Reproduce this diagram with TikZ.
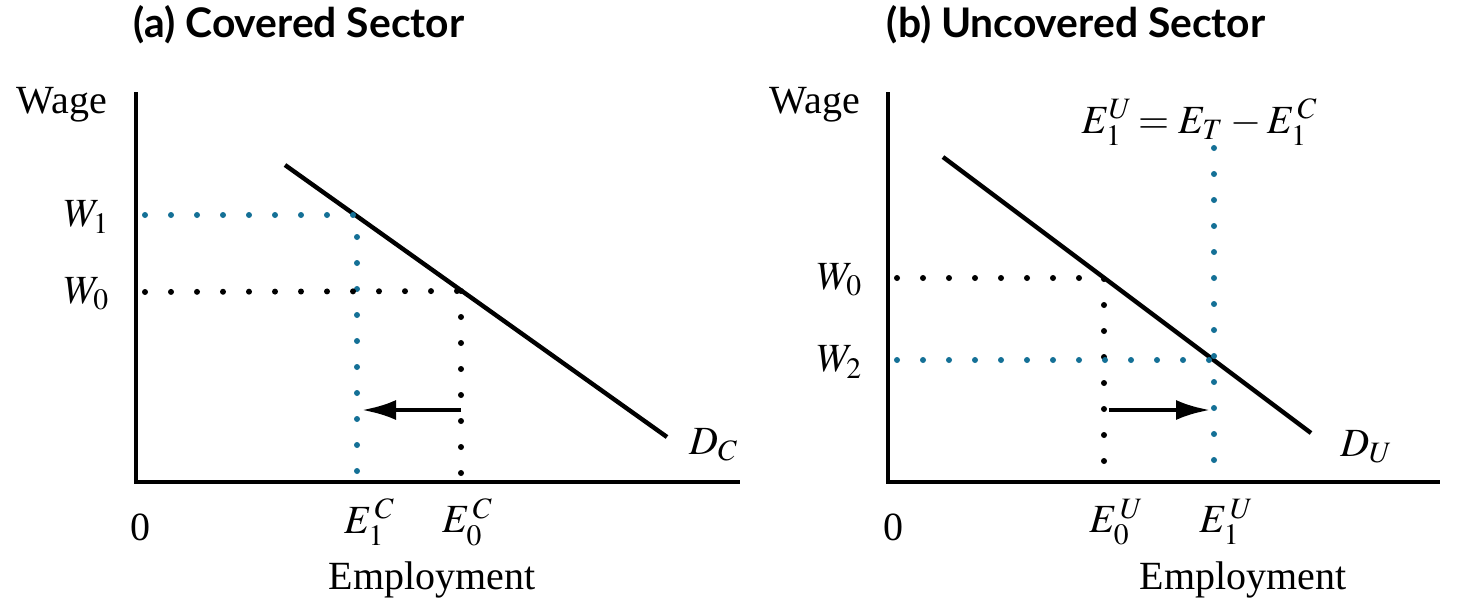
\documentclass[tikz,border=0pt]{standalone}
\usepackage{mathptmx}
\usepackage{fontspec}
\setmainfont{Liberation Serif}
\newfontfamily\titlefont{Lato}
\usepackage{xcolor}
\usepackage{tikz}
\usetikzlibrary{arrows.meta}

\definecolor{dotblue}{RGB}{20,112,150}

\begin{document}
\begin{tikzpicture}[
    >={Latex[length=8.5pt,width=5pt]},
    x=0.25pt, y=-0.25pt,
    axisline/.style={line width=1.1pt},
    demand/.style={line width=1.1pt},
    dotline/.style={line width=1.5pt,line cap=round,dash pattern=on 0pt off 6.5pt},
    bdots/.style={dotline,black},
    cdots/.style={dotline,dotblue},
    move/.style={->,line width=1.1pt},
    lbl/.style={font=\fontsize{10}{12}\selectfont,inner sep=0pt},
    paneltitle/.style={font=\titlefont\bfseries\fontsize{10.2}{12}\selectfont,
                       anchor=west,inner sep=0pt},
  ]
  \useasboundingbox (0,0) rectangle (1468,603);

  % --- (a) covered sector ---
  \node[paneltitle] (ta) at (133,25) {(a) Covered Sector};

  \coordinate (ya) at (136,92);
  \coordinate (oa) at (136,482);
  \coordinate (xa) at (740,482);
  \draw[axisline] (ya) -- (oa) -- (xa);

  \coordinate (dca) at (285,165);
  \coordinate (dcb) at (667,437);
  \draw[demand] (dca) -- (dcb);

  \coordinate (pa1) at (357,215);
  \coordinate (pa0) at (461,291);
  \coordinate (wa1) at (145,215);
  \coordinate (wa0) at (145,292);
  \coordinate (ea1) at (357,476);
  \coordinate (ea0) at (461,476);
  \draw[cdots] (wa1) -- (pa1) -- (ea1);
  \draw[bdots] (wa0) -- (pa0);
  \draw[bdots] (pa0) -- (ea0);

  \coordinate (ma0) at (461,410);
  \coordinate (ma1) at (362,410);
  \draw[move] (ma0) -- (ma1);

  \node[lbl] (wagea) at (62,105) {Wage};
  \node[lbl] (w1a) at (87,217) {$W_1$};
  \node[lbl] (w0a) at (87,294) {$W_0$};
  \node[lbl] (zeroa) at (140,527) {0};
  \node[lbl] (e1c) at (370,522) {$E_1^{\,C}$};
  \node[lbl] (e0c) at (468,522) {$E_0^{\,C}$};
  \node[lbl] (empa) at (432,580) {Employment};
  \node[lbl] (dc) at (714,445) {$D_C$};

  % --- (b) uncovered sector ---
  \node[paneltitle] (tb) at (886,25) {(b) Uncovered Sector};

  \coordinate (yb) at (888,92);
  \coordinate (ob) at (888,482);
  \coordinate (xb) at (1440,482);
  \draw[axisline] (yb) -- (ob) -- (xb);

  \coordinate (dua) at (943,157);
  \coordinate (dub) at (1311,433);
  \draw[demand] (dua) -- (dub);

  \coordinate (pb0) at (1104,278);
  \coordinate (pb2) at (1214,360);
  \coordinate (wb0) at (897,278);
  \coordinate (wb2) at (897,360);
  \coordinate (eb0) at (1104,464);
  \coordinate (ebt) at (1214,148);
  \coordinate (eb1) at (1214,466);
  \draw[bdots] (wb0) -- (pb0) -- (eb0);
  \draw[cdots] (wb2) -- (pb2);
  \draw[cdots] (ebt) -- (eb1);

  \coordinate (mb0) at (1109,410);
  \coordinate (mb1) at (1210,410);
  \draw[move] (mb0) -- (mb1);

  \node[lbl] (wageb) at (815,105) {Wage};
  \node[lbl] (w0b) at (840,280) {$W_0$};
  \node[lbl] (w2b) at (840,362) {$W_2$};
  \node[lbl] (zerob) at (893,527) {0};
  \node[lbl] (eut) at (1200,122) {$E_1^U\!=E_T-E_1^{\,C}$};
  \node[lbl] (e0u) at (1117,522) {$E_0^{\,U}$};
  \node[lbl] (e1u) at (1227,522) {$E_1^{\,U}$};
  \node[lbl] (empb) at (1243,580) {Employment};
  \node[lbl] (du) at (1367,447) {$D_U$};

\end{tikzpicture}
\end{document}
